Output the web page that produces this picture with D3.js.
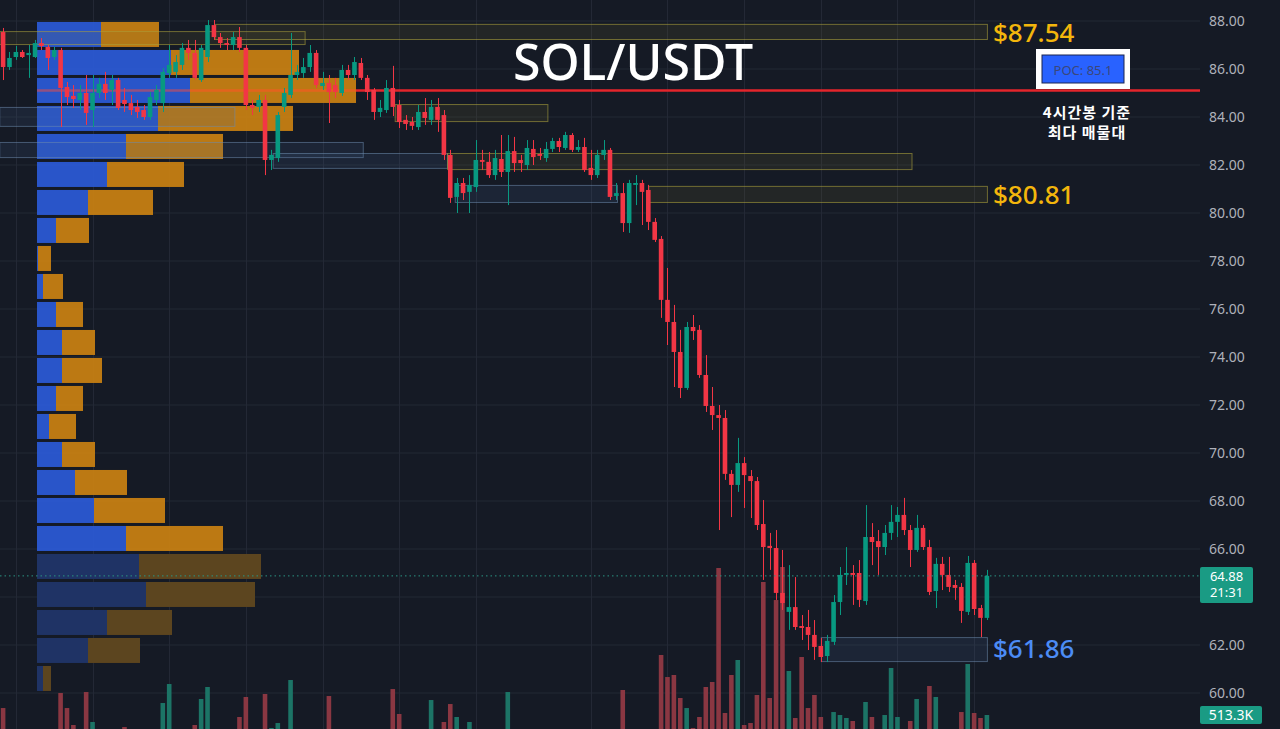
<!DOCTYPE html>
<html>
<head>
<meta charset="utf-8">
<script src="https://cdn.jsdelivr.net/npm/d3@7"></script>
<style>
  html, body { margin: 0; background: #151a25; overflow: hidden; }
</style>
</head>
<body>
<div id="chart"></div>
<script>
// 4h candles, [open, high, low, close]
const ohlc = [
  [87.54, 87.71, 85.54, 86.08], [86.08, 86.71, 85.96, 86.46], [86.50, 86.96, 86.38, 86.71], [86.71, 86.79, 86.46, 86.50],
  [86.58, 87.00, 85.63, 86.67], [86.50, 87.21, 86.46, 87.08], [87.08, 87.29, 86.79, 86.96], [86.92, 87.00, 85.96, 86.46],
  [86.50, 86.92, 86.38, 86.79], [86.79, 86.88, 83.58, 85.21], [85.25, 85.46, 84.50, 84.83], [84.88, 85.33, 84.38, 84.75],
  [84.71, 85.33, 84.29, 85.00], [85.00, 85.75, 83.67, 84.17], [84.29, 85.75, 83.58, 85.00], [85.00, 85.63, 84.79, 85.38],
  [85.38, 85.88, 84.71, 85.00], [85.13, 85.75, 84.50, 85.54], [85.54, 85.63, 84.29, 84.38], [84.71, 85.21, 84.21, 84.54],
  [84.58, 84.92, 84.08, 84.29], [84.42, 84.71, 83.96, 84.21], [84.29, 84.50, 83.88, 84.00], [84.00, 85.04, 83.88, 84.83],
  [84.71, 85.33, 84.50, 85.13], [84.58, 86.04, 84.21, 85.88], [85.83, 87.00, 85.63, 86.17], [85.88, 86.58, 85.63, 86.29],
  [86.17, 87.08, 85.96, 86.88], [86.88, 87.21, 86.38, 86.67], [86.67, 87.21, 85.54, 85.63], [85.54, 87.00, 85.46, 86.88],
  [86.50, 88.04, 86.29, 87.83], [87.83, 88.04, 87.21, 87.33], [87.33, 87.50, 86.88, 87.08], [87.08, 87.29, 86.79, 87.00],
  [87.00, 87.54, 86.79, 87.33], [87.33, 87.75, 86.71, 86.88], [86.88, 87.00, 84.29, 84.50], [84.50, 84.71, 84.08, 84.38],
  [84.42, 84.92, 84.21, 84.71], [84.71, 84.92, 81.58, 82.21], [82.21, 82.63, 81.79, 82.42], [82.29, 84.21, 82.13, 84.08],
  [84.42, 85.21, 84.21, 85.00], [84.92, 87.50, 84.79, 85.75], [85.75, 86.17, 85.54, 85.88], [85.83, 86.46, 85.63, 86.08],
  [86.08, 87.00, 85.88, 86.67], [86.67, 86.79, 85.21, 85.33], [85.29, 85.88, 85.13, 85.42], [85.42, 85.75, 83.75, 85.04],
  [85.33, 85.63, 84.79, 85.04], [85.00, 86.17, 84.88, 85.96], [85.96, 86.17, 85.54, 85.75], [85.75, 86.50, 85.54, 86.29],
  [86.25, 86.46, 85.54, 85.63], [85.63, 85.75, 84.71, 85.04], [85.13, 85.21, 83.88, 84.21], [84.21, 84.71, 84.00, 84.38],
  [84.29, 85.54, 84.17, 85.21], [85.21, 86.13, 84.04, 84.42], [84.50, 84.71, 83.54, 83.79], [83.88, 84.08, 83.46, 83.71],
  [83.79, 84.00, 83.46, 83.63], [83.58, 84.50, 83.46, 84.21], [84.21, 84.79, 83.67, 83.96], [83.88, 84.71, 83.67, 84.42],
  [84.42, 84.79, 83.38, 83.88], [84.08, 84.29, 82.21, 82.42], [82.42, 82.63, 80.42, 80.63], [80.67, 81.46, 80.00, 81.25],
  [81.25, 81.46, 80.54, 80.83], [80.88, 81.58, 80.00, 81.17], [81.08, 83.04, 80.88, 82.21], [82.21, 82.63, 81.79, 82.13],
  [82.13, 82.54, 81.46, 81.58], [81.58, 82.63, 81.38, 82.29], [82.25, 83.25, 81.50, 81.71], [81.71, 83.25, 80.33, 82.58],
  [82.58, 83.17, 81.71, 82.08], [82.21, 82.42, 81.71, 82.08], [82.00, 83.04, 81.79, 82.71], [82.67, 83.04, 82.00, 82.33],
  [82.46, 82.71, 82.21, 82.38], [82.29, 82.96, 82.13, 82.67], [82.67, 83.13, 82.54, 83.00], [83.00, 83.13, 82.54, 82.75],
  [82.71, 83.38, 82.63, 83.25], [83.25, 83.33, 82.54, 82.63], [82.63, 83.04, 82.54, 82.75], [82.75, 83.13, 81.71, 81.79],
  [81.88, 82.63, 81.38, 81.58], [81.58, 82.63, 81.46, 82.42], [82.42, 83.04, 82.21, 82.63], [82.63, 82.71, 80.54, 80.67],
  [80.71, 81.25, 80.54, 80.83], [80.83, 81.25, 79.21, 79.58], [79.58, 81.38, 79.17, 81.25], [81.17, 81.58, 80.33, 81.25],
  [81.25, 81.38, 79.50, 80.88], [80.96, 81.17, 79.29, 79.63], [79.63, 79.79, 78.79, 78.88], [78.92, 79.04, 75.63, 76.38],
  [76.38, 77.71, 74.50, 75.46], [75.46, 76.17, 72.75, 74.21], [74.21, 75.13, 72.29, 72.71], [72.71, 75.46, 72.63, 75.25],
  [75.25, 75.75, 74.71, 75.08], [75.13, 75.33, 73.13, 73.25], [73.25, 74.08, 71.71, 71.96], [71.96, 72.75, 70.96, 71.58],
  [71.58, 72.00, 66.79, 71.46], [71.46, 71.79, 68.88, 69.13], [69.13, 69.29, 67.33, 68.67], [68.67, 70.63, 68.38, 69.58],
  [69.58, 69.83, 67.71, 69.08], [69.04, 69.29, 67.29, 68.83], [68.83, 69.00, 66.79, 67.00], [67.04, 68.04, 64.71, 66.08],
  [66.13, 66.67, 65.13, 66.04], [66.04, 66.79, 63.88, 64.17], [64.17, 65.96, 63.46, 63.75], [63.38, 65.33, 62.63, 63.58],
  [63.58, 64.83, 62.63, 62.75], [62.79, 63.25, 62.21, 62.71], [62.75, 63.46, 61.79, 62.42], [62.42, 63.04, 61.38, 61.92],
  [61.96, 62.29, 61.29, 61.50], [61.54, 62.42, 61.29, 62.17], [62.13, 64.08, 62.00, 63.79], [63.79, 65.25, 63.25, 64.92],
  [64.92, 66.08, 64.50, 65.00], [65.00, 65.33, 63.67, 64.92], [65.00, 65.54, 63.58, 63.88], [63.83, 67.83, 63.67, 66.50],
  [66.50, 67.08, 65.33, 66.29], [66.33, 66.79, 64.92, 66.08], [66.08, 67.00, 65.75, 66.67], [66.67, 67.83, 66.38, 67.13],
  [67.13, 67.75, 66.50, 67.42], [67.42, 68.13, 66.58, 66.79], [66.79, 67.00, 65.25, 65.96], [65.96, 67.42, 65.88, 66.88],
  [66.88, 67.00, 65.96, 66.08], [66.08, 66.38, 64.08, 64.21], [64.25, 65.63, 63.54, 65.38], [65.38, 65.67, 64.29, 64.92],
  [64.92, 65.67, 64.21, 64.42], [64.50, 64.71, 63.88, 64.38], [64.42, 64.58, 62.92, 63.42], [63.38, 65.71, 63.25, 65.42],
  [65.42, 65.54, 63.25, 63.50], [63.54, 63.67, 62.33, 63.13], [63.13, 65.13, 63.04, 64.88]
]

// volume per candle, thousands (base of the volume pane sits below the visible edge)
const volume = [
  651, 140, 110, 120, 100, 160, 90, 150, 100, 948, 651, 316, 120, 967, 375, 150, 100, 130, 160, 276,
  110, 90, 130, 160, 170, 750, 1125, 150, 190, 130, 316, 829, 1066, 190, 110, 90, 150, 474, 869, 110,
  90, 928, 257, 355, 150, 1204, 130, 110, 150, 190, 90, 888, 150, 130, 110, 150, 130, 110, 170, 90,
  130, 1026, 533, 110, 90, 150, 110, 809, 130, 375, 730, 474, 150, 375, 170, 110, 130, 150, 110, 967,
  130, 90, 110, 150, 90, 110, 130, 110, 150, 130, 110, 150, 130, 110, 150, 190, 150, 1007, 200, 200,
  220, 200, 210, 1698, 1263, 1303, 849, 651, 257, 474, 1066, 1165, 3415, 553, 1303, 1599, 316, 355, 908, 3139,
  849, 2783, 3435, 1382, 454, 1658, 651, 908, 474, 200, 572, 513, 454, 395, 200, 770, 474, 200, 513, 1441,
  474, 200, 395, 829, 200, 1086, 869, 200, 200, 150, 572, 1520, 553, 454, 513.3
]

const priceTicks = d3.range(60, 89, 2)
const gridIdx = [2, 14, 26, 38, 50, 62, 74, 92, 104, 116, 128, 140, 152]

// volume profile: buy / sell per price row, top row first
const profileBuy  = [64, 134, 153, 121, 89, 70, 51, 19, 1, 6, 19, 25, 25, 19, 12, 25, 38, 57, 89, 102, 109, 70, 51, 6]
const profileSell = [58, 128, 166, 135, 97, 77, 65, 33, 13, 20, 27, 33, 40, 27, 27, 33, 52, 71, 97, 122, 109, 65, 52, 8]
const profileTop = 87.96
const profileStep = 1.1667
const profileDimFrom = 19

// zones: from index, to index, upper price, lower price
const zones = [
  { a: -0.6, b: 36.2, hi: 84.42, lo: 83.63, kind: "blue" },
  { a: -0.6, b: 56.3, hi: 82.96, lo: 82.33, kind: "blue" },
  { a: 42.2, b: 69.5, hi: 82.50, lo: 81.88, kind: "blue" },
  { a: 70.7, b: 96.1, hi: 81.17, lo: 80.46, kind: "blue" },
  { a: 128.0, b: 154, hi: 62.33, lo: 61.33, kind: "blue" },
  { a: -0.6, b: 47.2, hi: 87.58, lo: 87.04, kind: "olive" },
  { a: 33.1, b: 154, hi: 87.88, lo: 87.25, kind: "olive" },
  { a: 61.3, b: 85.2, hi: 84.54, lo: 83.83, kind: "olive" },
  { a: 69.5, b: 142.2, hi: 82.50, lo: 81.83, kind: "olive" },
  { a: 101.0, b: 154, hi: 81.13, lo: 80.46, kind: "olive" }
]
const zoneLabels = [
  { price: 87.54, color: "#f3b60c" },
  { price: 80.81, color: "#f3b60c" },
  { price: 61.86, color: "#4c8cf5" }
]

const pocPrice = 85.1
const lastClose = 64.88
const lastVolume = "513.3K"
const countdown = "21:31"

let W = 1280, H = 729
let svg = d3.select("#chart").append("svg").attr("width", W).attr("height", H)
svg.append("rect").attr("width", W).attr("height", H).attr("fill", "#151a25")

let plotRight = 1200
let x = d3.scaleBand().domain(d3.range(ohlc.length)).range([0.8, 989.2]).paddingInner(0.28)
let xl = d3.scaleLinear().domain([0, ohlc.length - 1])
  .range([x(0) + x.bandwidth() / 2, x(ohlc.length - 1) + x.bandwidth() / 2])
let y = d3.scaleLinear().domain([60, 88]).range([693, 21])
let yv = d3.scaleLinear().domain([0, 3500]).range([741, 563.7])
let xp = d3.scaleLinear().domain([0, 319]).range([37, 356])

const up = "#089981", down = "#f23645"

// grid
svg.append("g").selectAll("line").data(priceTicks).join("line")
  .attr("x1", 0).attr("x2", plotRight)
  .attr("y1", d => y(d)).attr("y2", d => y(d))
  .attr("stroke", "#232835").attr("stroke-width", 1)
svg.append("g").selectAll("line").data(gridIdx).join("line")
  .attr("x1", d => Math.round(xl(d)) + 0.5).attr("x2", d => Math.round(xl(d)) + 0.5)
  .attr("y1", 0).attr("y2", H)
  .attr("stroke", "#232835").attr("stroke-width", 1)

// volume bars
svg.append("g").selectAll("rect").data(volume).join("rect")
  .attr("x", (d, i) => x(i))
  .attr("width", x.bandwidth())
  .attr("y", d => yv(d))
  .attr("height", d => yv(0) - yv(d))
  .attr("fill", (d, i) => ohlc[i][3] >= ohlc[i][0] ? "#1c7466" : "#8a3742")

// POC line
svg.append("line")
  .attr("x1", 37).attr("x2", plotRight)
  .attr("y1", y(pocPrice)).attr("y2", y(pocPrice))
  .attr("stroke", "#e3252b").attr("stroke-width", 2.5)

// volume profile
let prof = svg.append("g")
profileBuy.forEach(function (b, k) {
  let top = y(profileTop - k * profileStep)
  let h = y(profileTop - (k + 1) * profileStep) - top - 3
  let dim = k >= profileDimFrom
  prof.append("rect")
    .attr("x", xp(0)).attr("y", top)
    .attr("width", xp(b) - xp(0)).attr("height", h)
    .attr("fill", dim ? "#1f3365" : "#2b5ad6").attr("opacity", dim ? 1 : 0.93)
  prof.append("rect")
    .attr("x", xp(b)).attr("y", top)
    .attr("width", xp(b + profileSell[k]) - xp(b)).attr("height", h)
    .attr("fill", dim ? "#5c451f" : "#c98112").attr("opacity", dim ? 1 : 0.93)
})

// POC line shows faintly through the profile
svg.append("line")
  .attr("x1", xp(0)).attr("x2", xp(profileBuy[2] + profileSell[2]))
  .attr("y1", y(pocPrice)).attr("y2", y(pocPrice))
  .attr("stroke", "#ff4a2a").attr("stroke-width", 2.5).attr("opacity", 0.45)

// zones
svg.append("g").selectAll("rect").data(zones).join("rect")
  .attr("x", d => xl(d.a) + 0.5)
  .attr("width", d => xl(d.b) - xl(d.a))
  .attr("y", d => y(d.hi) + 0.5)
  .attr("height", d => y(d.lo) - y(d.hi))
  .attr("fill", d => d.kind === "olive" ? "rgba(120,115,50,0.14)" : "rgba(70,100,140,0.16)")
  .attr("stroke", d => d.kind === "olive" ? "rgba(170,160,60,0.6)" : "rgba(110,140,175,0.55)")
  .attr("stroke-width", 1)

// candles
let candles = svg.append("g").selectAll("g").data(ohlc).join("g")
candles.append("line")
  .attr("x1", (d, i) => Math.round(xl(i)) + 0.5).attr("x2", (d, i) => Math.round(xl(i)) + 0.5)
  .attr("y1", d => y(d[1])).attr("y2", d => y(d[2]))
  .attr("stroke", d => d[3] >= d[0] ? up : down).attr("stroke-width", 1)
candles.append("rect")
  .attr("x", (d, i) => x(i))
  .attr("width", x.bandwidth())
  .attr("y", d => y(Math.max(d[0], d[3])))
  .attr("height", d => Math.max(1.5, Math.abs(y(d[0]) - y(d[3]))))
  .attr("fill", d => d[3] >= d[0] ? up : down)

// last price dotted line
svg.append("line")
  .attr("x1", 0).attr("x2", plotRight)
  .attr("y1", y(lastClose)).attr("y2", y(lastClose))
  .attr("stroke", "#2b9483").attr("stroke-width", 1).attr("stroke-dasharray", "1.5,3")

// price axis (the label hidden under the last-price tag is left out)
let gy = svg.append("g")
  .attr("transform", `translate(${plotRight},0)`)
  .call(d3.axisRight(y).tickValues(priceTicks).tickFormat(d3.format(".2f")).tickSize(0).tickPadding(9))
gy.select(".domain").remove()
gy.selectAll(".tick").filter(d => Math.abs(y(d) - y(lastClose)) < 26).select("text").remove()
gy.selectAll("text")
  .attr("fill", "#aeb1ba").attr("font-size", "14px")
  .attr("font-family", "'Noto Sans', sans-serif")

// zone price labels
svg.append("g").selectAll("text").data(zoneLabels).join("text")
  .attr("x", 993).attr("y", d => y(d.price))
  .attr("dominant-baseline", "central")
  .attr("fill", d => d.color)
  .attr("font-size", "26px").attr("font-weight", 500)
  .attr("font-family", "'Noto Sans', sans-serif")
  .text(d => "$" + d3.format(".2f")(d.price))

// title
svg.append("text")
  .attr("x", 633).attr("y", 80)
  .attr("text-anchor", "middle")
  .attr("fill", "#ffffff").attr("font-size", "50px").attr("font-weight", 500)
  .attr("font-family", "'Noto Sans', sans-serif")
  .text("SOL/USDT")

// POC badge
svg.append("rect").attr("x", 1036).attr("y", 49).attr("width", 94).attr("height", 40).attr("fill", "#ffffff")
svg.append("rect").attr("x", 1042).attr("y", 55).attr("width", 82).attr("height", 28)
  .attr("fill", "#2962ff").attr("stroke", "#1b2550").attr("stroke-width", 1)
svg.append("text")
  .attr("x", 1083).attr("y", 70)
  .attr("text-anchor", "middle").attr("dominant-baseline", "central")
  .attr("fill", "#3b477a").attr("font-size", "13px")
  .attr("font-family", "'Noto Sans', sans-serif")
  .text("POC: " + pocPrice)

// annotation, two lines
let note = ["4시간봉 기준", "최다 매물대"]
svg.append("g").selectAll("text").data(note).join("text")
  .attr("x", 1087).attr("y", (d, i) => 118 + i * 20)
  .attr("text-anchor", "middle")
  .attr("fill", "#ffffff").attr("font-size", "15px").attr("font-weight", 600)
  .attr("letter-spacing", "1px")
  .attr("font-family", "'Noto Sans CJK KR', sans-serif")
  .text(d => d)

// last price tag
let ty = y(lastClose)
svg.append("rect").attr("x", plotRight).attr("y", ty - 9).attr("width", 53).attr("height", 36)
  .attr("rx", 2).attr("fill", "#1a9b84")
svg.append("text")
  .attr("text-anchor", "middle")
  .attr("fill", "#ffffff").attr("font-size", "13px")
  .attr("font-family", "'Noto Sans', sans-serif")
  .selectAll("tspan").data([d3.format(".2f")(lastClose), countdown]).join("tspan")
  .attr("x", plotRight + 26.5).attr("y", (d, i) => ty + 5.5 + i * 16)
  .text(d => d)

// last volume tag
let vy = yv(volume[volume.length - 1])
svg.append("rect").attr("x", plotRight).attr("y", vy - 9).attr("width", 62).attr("height", 18)
  .attr("rx", 2).attr("fill", "#1a9b84")
svg.append("text")
  .attr("x", plotRight + 31).attr("y", vy)
  .attr("text-anchor", "middle").attr("dominant-baseline", "central")
  .attr("fill", "#ffffff").attr("font-size", "14px")
  .attr("font-family", "'Noto Sans', sans-serif")
  .text(lastVolume)
</script>
</body>
</html>
